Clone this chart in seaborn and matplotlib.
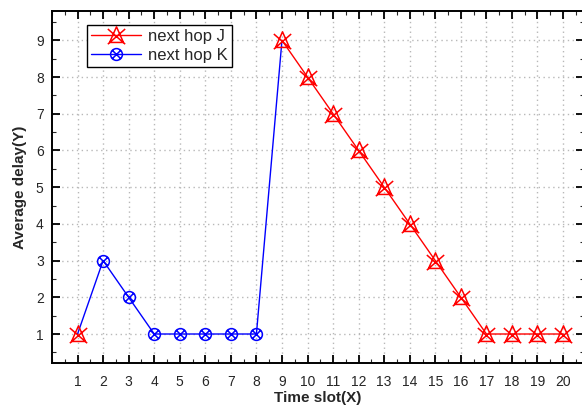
import matplotlib
matplotlib.use("Agg")
import matplotlib.pyplot as plt
from matplotlib.path import Path
from matplotlib.lines import Line2D
from matplotlib.ticker import MultipleLocator
import numpy as np
import pandas as pd
import seaborn as sns

# Data
k_slots = [1, 2, 3, 4, 5, 6, 7, 8, 9]
k_delay = [1, 3, 2, 1, 1, 1, 1, 1, 9]
j_slots = [1, 9, 10, 11, 12, 13, 14, 15, 16, 17, 18, 19, 20]
j_delay = [1, 9, 8, 7, 6, 5, 4, 3, 2, 1, 1, 1, 1]
x_ticks = list(range(1, 21))
y_ticks = list(range(1, 10))
series_names = ["next hop J", "next hop K"]

sns.set_style("ticks")
plt.rcParams["font.family"] = ["Liberation Sans", "DejaVu Sans"]

# Marker shapes: triangle with a cross, circle with a cross
tri_verts = [(0, 1), (-0.8, -0.8), (0.8, -0.8), (0, 1),
             (-1, 0.75), (1, -1), (1, 0.75), (-1, -1)]
tri_codes = [Path.MOVETO, Path.LINETO, Path.LINETO, Path.CLOSEPOLY,
             Path.MOVETO, Path.LINETO, Path.MOVETO, Path.LINETO]
tri_cross = Path(tri_verts, tri_codes)

c = 0.7071
cross = Path([(-c, c), (c, -c), (c, c), (-c, -c)],
             [Path.MOVETO, Path.LINETO, Path.MOVETO, Path.LINETO])
circ_cross = Path.make_compound_path(Path.unit_circle(), cross)

red = "#ff0000"
blue = "#0000ff"

fig = plt.figure(figsize=(5.82, 4.16), dpi=100)
ax = fig.add_axes([52 / 582, 53 / 416, 532 / 582, 352 / 416])

k_df = pd.DataFrame({"slot": k_slots, "delay": k_delay})
j_df = pd.DataFrame({"slot": j_slots, "delay": j_delay})

# next hop K: line across all slots, markers on the interior points
sns.lineplot(data=k_df, x="slot", y="delay", ax=ax, color=blue, lw=1,
             marker=circ_cross, markersize=8.5, markerfacecolor="none",
             markeredgecolor=blue, markeredgewidth=1.1,
             markevery=list(range(1, len(k_slots) - 1)), zorder=3)

# next hop J: isolated first point, then the connected descent
sns.lineplot(data=j_df.iloc[:1], x="slot", y="delay", ax=ax, color=red,
             linestyle="none", marker=tri_cross, markersize=12.5,
             markerfacecolor="none", markeredgecolor=red,
             markeredgewidth=1.1, zorder=4)
sns.lineplot(data=j_df.iloc[1:], x="slot", y="delay", ax=ax, color=red, lw=1,
             marker=tri_cross, markersize=12.5, markerfacecolor="none",
             markeredgecolor=red, markeredgewidth=1.1, zorder=4)

ax.set_xlim(0, 20.82)
ax.set_ylim(0.21, 9.8)
ax.set_xticks(x_ticks)
ax.set_yticks(y_ticks)
ax.xaxis.set_minor_locator(MultipleLocator(0.5))
ax.yaxis.set_minor_locator(MultipleLocator(0.5))
ax.tick_params(which="major", direction="in", length=6, width=1.3,
               top=True, right=True, labelsize=10, color="black")
ax.tick_params(axis="x", which="major", pad=9)
ax.tick_params(axis="y", which="major", pad=6)
ax.tick_params(which="minor", direction="in", length=3, width=0.8,
               top=True, right=True)
for s in ax.spines.values():
    s.set_linewidth(1.4)
    s.set_color("black")

ax.grid(True, which="major", color="#b8b8b8", linestyle=(0, (1, 2.5)), lw=1)
ax.set_axisbelow(True)

ax.set_xlabel("Time slot(X)", fontsize=11, fontweight="bold", labelpad=1)
ax.set_ylabel("Average delay(Y)", fontsize=11, fontweight="bold", labelpad=6)

handles = [
    Line2D([], [], color=red, lw=1, marker=tri_cross, markersize=12.5,
           markerfacecolor="none", markeredgecolor=red, markeredgewidth=1.1),
    Line2D([], [], color=blue, lw=1, marker=circ_cross, markersize=8.5,
           markerfacecolor="none", markeredgecolor=blue, markeredgewidth=1.1),
]
leg = ax.legend(handles, series_names, loc="upper left",
                bbox_to_anchor=(0.066, 0.96), fontsize=12, frameon=True,
                fancybox=False, edgecolor="black", framealpha=1,
                handlelength=3.0, handletextpad=0.4, borderpad=0.25,
                labelspacing=0.2, borderaxespad=0)
leg.get_frame().set_linewidth(1)

fig.savefig("out.png", dpi=100)
